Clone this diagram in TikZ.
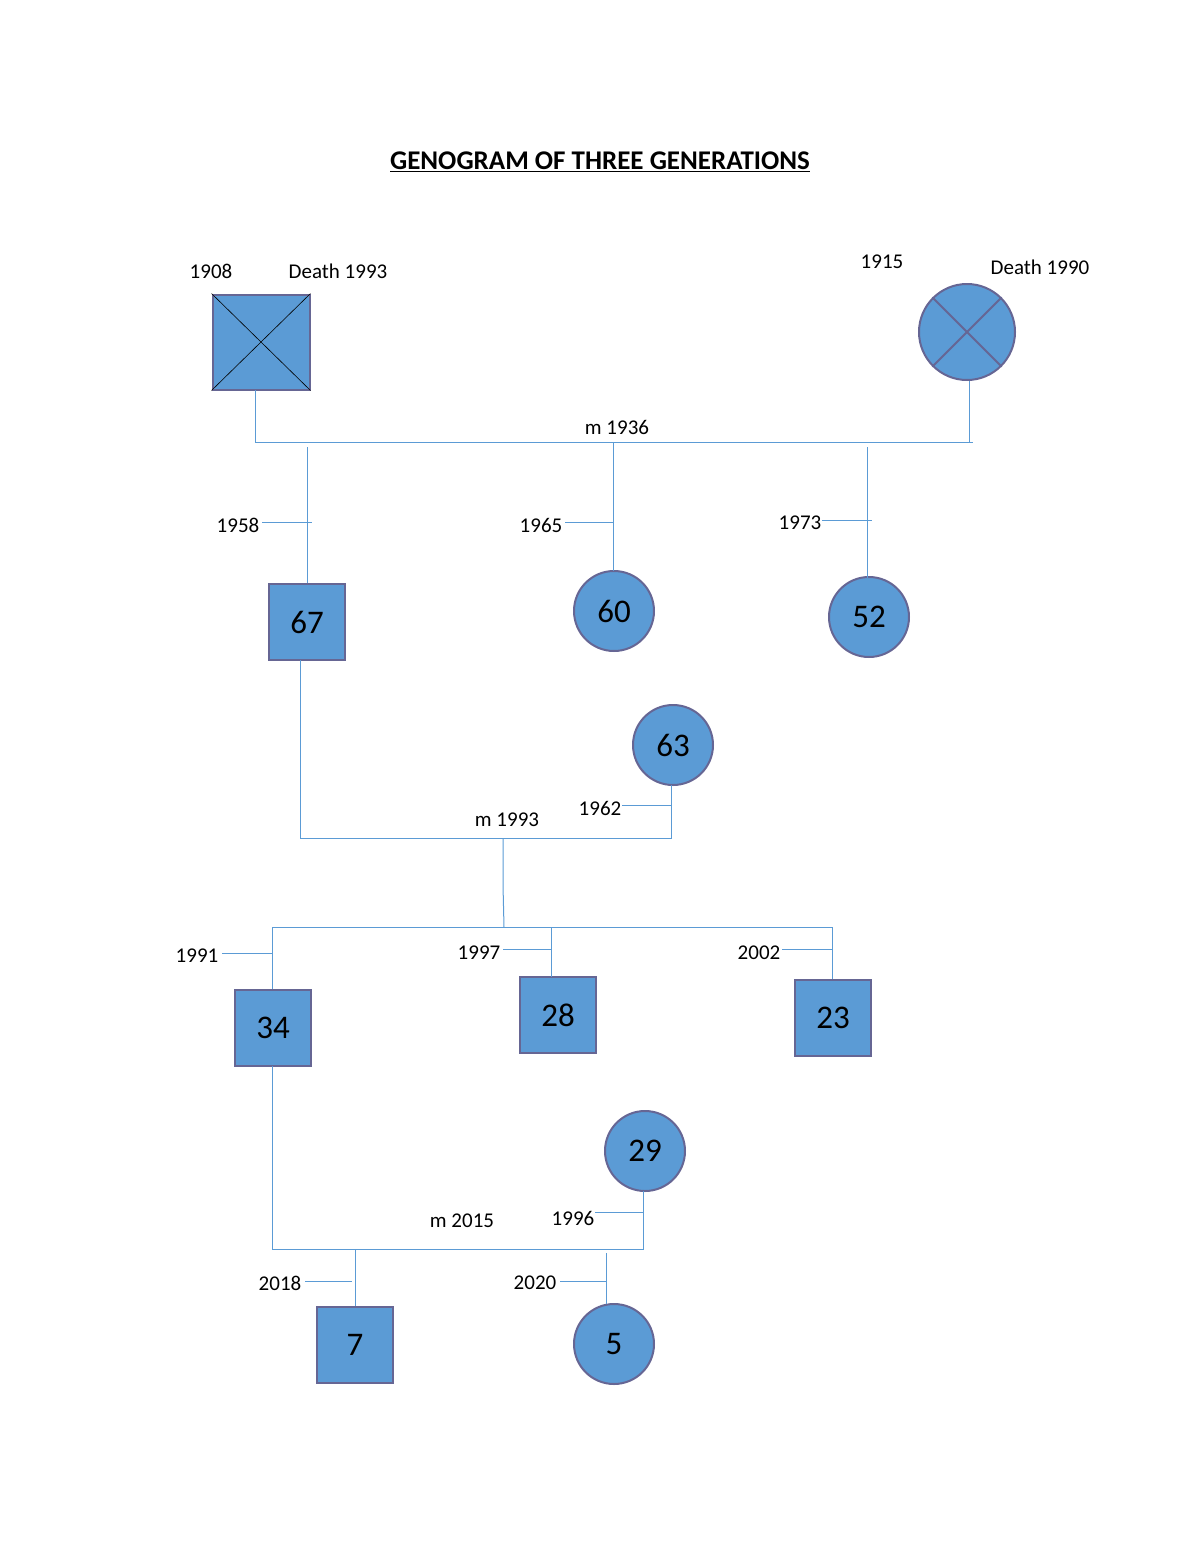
\documentclass[tikz,border=0pt]{standalone}
\usepackage{fontspec}
\setmainfont{Carlito}
\begin{document}
\begin{tikzpicture}[x=1pt,y=-1pt,
  lbl/.style={font=\fontsize{21}{24}\selectfont, inner sep=0pt},
  num/.style={font=\fontsize{33}{38}\selectfont},
  sq/.style={draw=black!70!blue!60, line width=2pt, fill=blue1, minimum size=76pt, inner sep=0pt, num},
  ci/.style={draw=black!70!blue!60, line width=2pt, fill=blue1, circle, minimum size=80pt, inner sep=0pt, num},
  ln/.style={draw=blue1, line width=1pt}]
\definecolor{blue1}{HTML}{5B9BD5}
\useasboundingbox (0,0) rectangle (1200,1553);
\node[font=\bfseries\fontsize{27}{30}\selectfont] (title) at (600,162) {\underline{GENOGRAM OF THREE GENERATIONS}};
% grandparents
\node[sq, minimum width=97pt, minimum height=95pt] (gf) at (261,342) {};
\draw[line width=0.6pt] (gf.north west) -- (gf.south east) (gf.north east) -- (gf.south west);
\node[lbl] (gfb) at (211,271) {1908};
\node[lbl] (gfd) at (338,271) {Death 1993};
\node[ci, minimum size=96pt] (gm) at (967,332) {};
\draw[line width=2pt, draw=black!70!blue!60] (gm.north west) -- (gm.south east) (gm.north east) -- (gm.south west);
\node[lbl] (gmb) at (882,262) {1915};
\node[lbl] (gmd) at (1040,267) {Death 1990};
\coordinate (m1a) at (255,442); \coordinate (m1b) at (969,442);
\draw[ln] (255,390) -- (m1a) -- (973,442);
\draw[ln] (gm.south) ++(2,0) -- (m1b);
\node[lbl] (m1936) at (617,427) {m 1936};
% generation 2
\node[sq] (c67) at (307,622) {67};
\node[ci] (c60) at (614,611) {60};
\node[ci] (c52) at (869,617) {52};
\draw[ln] (307,447) -- (c67.north);
\draw[ln] (613,442) -- (613,571);
\draw[ln] (867,447) -- (867,578);
\draw[ln] (262,522) -- (312,522); \node[lbl] (y1958) at (238,525) {1958};
\draw[ln] (565,522) -- (613,522); \node[lbl] (y1965) at (541,525) {1965};
\draw[ln] (822,520) -- (872,520); \node[lbl] (y1973) at (800,523) {1973};
\node[ci] (c63) at (673,745) {63};
\draw[ln] (300,660) -- (300,838) -- (671,838) -- (671,785);
\draw[ln] (622,805) -- (671,805); \node[lbl] (y1962) at (600,808) {1962};
\node[lbl] (m1993) at (507,820) {m 1993};
\draw[ln] (503,838) -- (503,885) -- (504,927);
\draw[ln] (272,991) -- (272,927) -- (832,927) -- (832,981);
% generation 3
\node[sq] (c34) at (273,1028) {34};
\node[sq] (c28) at (558,1015) {28};
\node[sq] (c23) at (833,1018) {23};
\draw[ln] (551,927) -- (551,977);
\draw[ln] (222,953) -- (272,953); \node[lbl] (y1991) at (197,956) {1991};
\draw[ln] (503,949) -- (551,949); \node[lbl] (y1997) at (479,953) {1997};
\draw[ln] (782,949) -- (832,949); \node[lbl] (y2002) at (759,953) {2002};
\node[ci] (c29) at (645,1151) {29};
\draw[ln] (272,1066) -- (272,1249) -- (643,1249) -- (643,1191);
\draw[ln] (595,1212) -- (643,1212); \node[lbl] (y1996) at (573,1218) {1996};
\node[lbl] (m2015) at (462,1221) {m 2015};
% generation 4
\node[sq] (c7) at (355,1345) {7};
\node[ci] (c5) at (614,1344) {5};
\draw[ln] (355,1249) -- (c7.north);
\draw[ln] (606,1253) -- (606,1304);
\draw[ln] (305,1281) -- (352,1281); \node[lbl] (y2018) at (280,1283) {2018};
\draw[ln] (560,1281) -- (606,1281); \node[lbl] (y2020) at (535,1283) {2020};
\end{tikzpicture}
\end{document}
